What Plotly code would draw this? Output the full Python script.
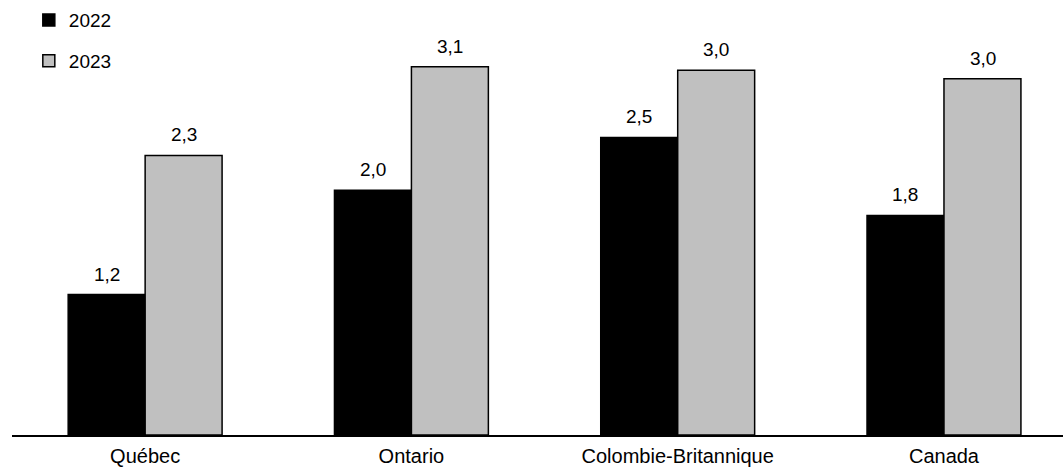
import plotly.graph_objects as go

categories = ["Québec", "Ontario", "Colombie-Britannique", "Canada"]
series_names = ["2022", "2023"]
values_2022 = [1.17, 2.04, 2.48, 1.83]
values_2023 = [2.33, 3.07, 3.04, 2.97]
labels_2022 = ["1,2", "2,0", "2,5", "1,8"]
labels_2023 = ["2,3", "3,1", "3,0", "3,0"]

FONT = "Arial, Liberation Sans, sans-serif"
x_idx = list(range(len(categories)))

fig = go.Figure()
fig.add_trace(go.Bar(
    x=x_idx, y=values_2022, name=series_names[0], legendgroup="a",
    marker=dict(color="#000000", line=dict(color="#000000", width=1.5)),
    hoverinfo="skip",
))
fig.add_trace(go.Bar(
    x=x_idx, y=values_2023, name=series_names[1], legendgroup="b",
    marker=dict(color="#C0C0C0", line=dict(color="#000000", width=1.5)),
    hoverinfo="skip",
))

bar_offset = 0.145
for i, (v, t) in enumerate(zip(values_2022, labels_2022)):
    fig.add_annotation(x=i - bar_offset, y=v, text=t, showarrow=False,
                       yanchor="bottom", yshift=8, font=dict(size=19, color="#000", family=FONT))
for i, (v, t) in enumerate(zip(values_2023, labels_2023)):
    fig.add_annotation(x=i + bar_offset, y=v, text=t, showarrow=False,
                       yanchor="bottom", yshift=8, font=dict(size=19, color="#000", family=FONT))

fig.update_layout(
    width=1063, height=468,
    margin=dict(l=12, r=0, t=10, b=33, autoexpand=False),
    paper_bgcolor="white", plot_bgcolor="white",
    barmode="group", bargap=0.422, bargroupgap=0,
    font=dict(family=FONT, size=19, color="#000"),
    showlegend=True,
    legend=dict(x=0.016, y=1.021, xanchor="left", yanchor="top",
                traceorder="grouped", tracegroupgap=13,
                font=dict(size=19, family=FONT, color="#000"),
                bgcolor="rgba(0,0,0,0)", borderwidth=0),
    xaxis=dict(tickmode="array", tickvals=x_idx, ticktext=categories,
               range=[-0.5, 3.447], showgrid=False, zeroline=False,
               showline=True, linecolor="#000", linewidth=1.5, ticks="",
               ticklabelstandoff=2, automargin=False,
               tickfont=dict(size=20, family=FONT, color="#000")),
    yaxis=dict(range=[0, 3.542], visible=False, showgrid=False, zeroline=False),
)

fig.write_html("out.html", config={"displayModeBar": False},
               post_script="document.body.style.margin='0';document.body.style.overflow='hidden';")
